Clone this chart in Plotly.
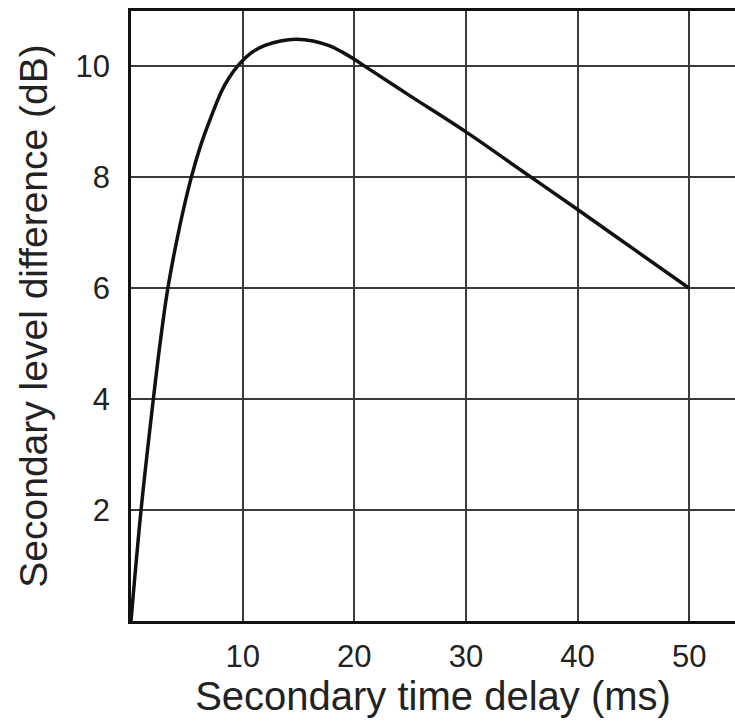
import plotly.graph_objects as go

# Data
delay_ms = [0, 0.9, 2.0, 2.6, 3.3, 4.4, 5.4, 6.2, 7.0, 8.1, 8.8, 9.6, 10.8, 12, 13.4, 14.8,
            16.3, 17.8, 19, 20, 21.2, 25, 30, 35, 40, 45, 50]
level_db = [0, 2.0, 4.0, 5.0, 6.0, 7.15, 8.0, 8.55, 9.0, 9.55, 9.8, 10.02, 10.25, 10.38, 10.46, 10.49,
            10.46, 10.37, 10.25, 10.13, 9.97, 9.47, 8.82, 8.12, 7.42, 6.71, 6.0]
x_ticks = [10, 20, 30, 40, 50]
y_ticks = [2, 4, 6, 8, 10]

fig = go.Figure()
fig.add_trace(go.Scatter(
    x=delay_ms, y=level_db, mode="lines",
    line=dict(color="#111111", width=3.5, shape="spline", smoothing=1.0),
    showlegend=False, hoverinfo="skip",
))

font_family = "Liberation Sans, Arial, Helvetica, sans-serif"
fig.update_layout(
    width=735, height=726,
    margin=dict(l=131, r=0, t=11, b=105),
    paper_bgcolor="white", plot_bgcolor="white",
    font=dict(family=font_family, color="#222222"),
)
fig.update_xaxes(
    range=[0, 54.1], tickvals=x_ticks, ticktext=[str(v) for v in x_ticks],
    showgrid=True, gridcolor="#3a3a3a", gridwidth=1.5,
    showline=True, linecolor="#111111", linewidth=2.5, mirror=True,
    ticks="", tickfont=dict(size=31), zeroline=False,
    ticklabelstandoff=6,
    title=dict(text="Secondary time delay (ms)", font=dict(size=40), standoff=4),
    automargin=False,
)
fig.update_yaxes(
    range=[0, 11], tickvals=y_ticks, ticktext=[str(v) for v in y_ticks],
    showgrid=True, gridcolor="#3a3a3a", gridwidth=1.5,
    showline=True, linecolor="#111111", linewidth=2.5, mirror=False,
    ticks="", tickfont=dict(size=31), zeroline=False,
    ticklabelstandoff=12,
    title=dict(text="Secondary level difference (dB)", font=dict(size=39), standoff=16),
    automargin=False,
)

fig.write_html(
    "out.html",
    config={"displayModeBar": False},
    post_script=(
        "document.body.style.margin='0';"
        "document.body.style.overflow='hidden';"
        "document.documentElement.style.overflow='hidden';"
    ),
)
